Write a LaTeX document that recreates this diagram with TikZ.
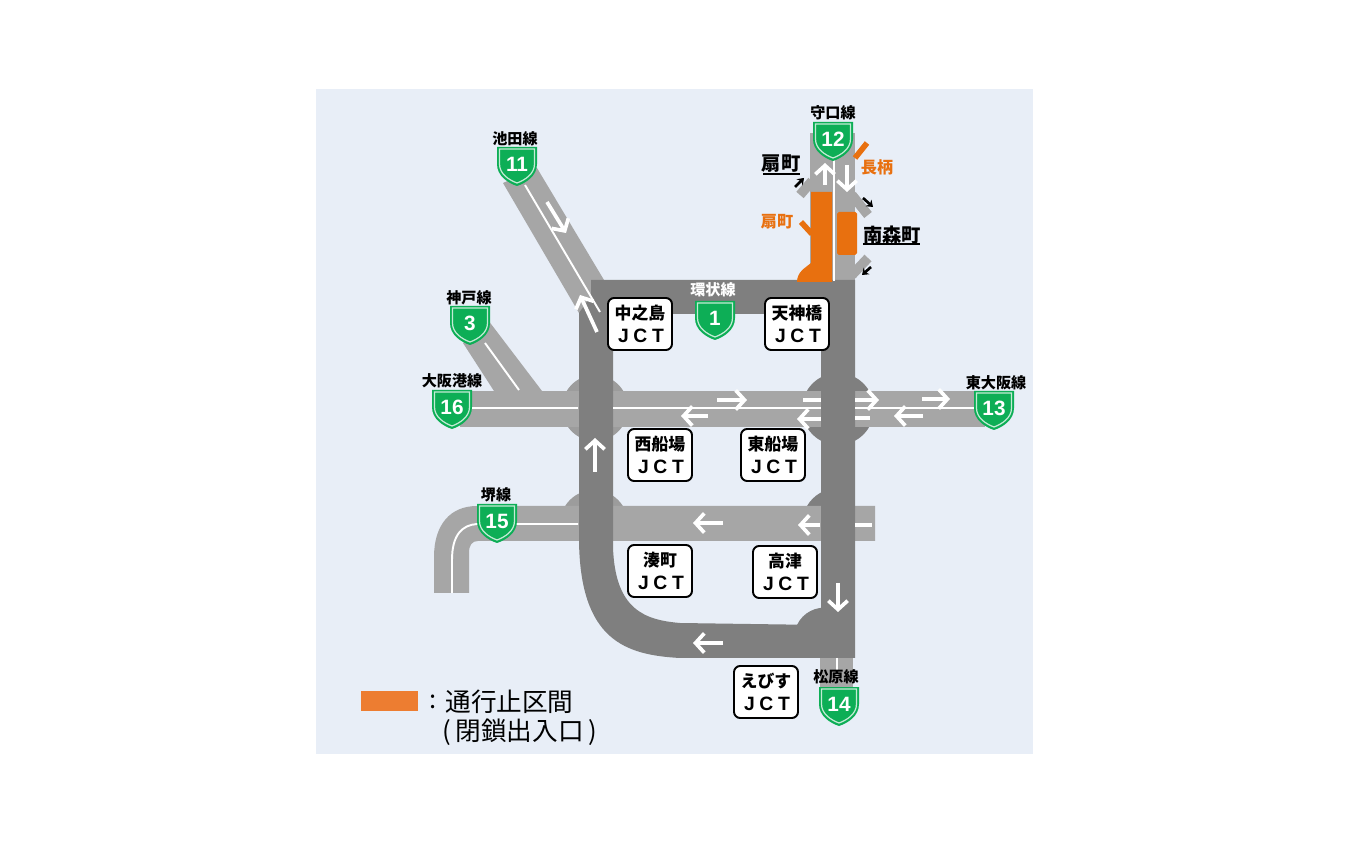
\documentclass[tikz,border=0pt]{standalone}
\usepackage{fontspec}
\usepackage{tikz}
\usetikzlibrary{arrows.meta}
\setmainfont{Noto Sans CJK JP}
\newfontfamily\latinfont{Liberation Sans}
\newfontfamily\jctfont[LetterSpace=24]{Liberation Sans}
\definecolor{colorPanel}{HTML}{E8EEF7}
\definecolor{colorLight}{HTML}{A6A6A6}
\definecolor{colorDark}{HTML}{7F7F7F}
\definecolor{colorClosed}{HTML}{E8700F}
\definecolor{colorLegend}{HTML}{ED7D31}
\definecolor{colorShield}{HTML}{0DAE56}
\tikzset{
    routename/.style={inner sep=0pt, font=\fontsize{8.6}{10}\selectfont\bfseries},
    placename/.style={inner sep=0pt, font=\fontsize{11}{13}\selectfont\bfseries},
    closedname/.style={placename, text=colorClosed, font=\fontsize{9.2}{11}\selectfont\bfseries},
    legendtext/.style={inner sep=0pt, anchor=west, font=\fontsize{14.6}{17}\selectfont},
    flow/.style={white, line width=2.1pt, -{Straight Barb[length=5pt,width=11pt,line width=2.1pt]}},
    dashmark/.style={white, line width=1.9pt},
    centreline/.style={white, line width=1.1pt},
    ramp/.style={colorLight, line width=5.5pt},
    closedramp/.style={colorClosed, line width=3.2pt},
    rampflow/.style={black, line width=1.5pt, -{Stealth[length=3.5pt,width=5pt]}},
    jctbox/.pic={
        \draw[black, fill=white, line width=1.1pt, rounded corners=3.5pt] (-32,-26) rectangle (32,26);
        \node[inner sep=0pt, font=\fontsize{9.6}{12}\selectfont\bfseries] (-name) at (0,-10.5) {#1};
        \node[inner sep=0pt, font=\jctfont\fontsize{11}{12}\selectfont\bfseries] (-jct) at (1,12) {JCT};
    },
    shield/.pic={
        \fill[colorShield] (-20,0) -- (20,0) -- (20,17) .. controls (20,29) and (9,36) .. (0,39) .. controls (-9,36) and (-20,29) .. (-20,17) -- cycle;
        \draw[white!75!colorShield, line width=0.7pt] (-17.5,2) -- (17.5,2) -- (17.5,17) .. controls (17.5,27) and (8,33) .. (0,36) .. controls (-8,33) and (-17.5,27) .. (-17.5,17) -- cycle;
        \node[white, inner sep=0pt, font=\latinfont\fontsize{11.8}{13}\selectfont\bfseries] (-num) at (0,17) {#1};
    },
}

\begin{document}
\begin{tikzpicture}[x=0.02cm, y=-0.02cm]
        \useasboundingbox (0,0) rectangle (1350,844);
        \fill[colorPanel] (316,89) rectangle (1033,754);
        % junction bulges
        \fill[colorLight!94!black] (595,408) circle (33);
        \fill[colorLight!94!black] (594,524) ++(-34,0) arc (180:360:34) -- cycle;
        \fill[colorDark] (838,409) circle (36);
        \fill[colorDark] (838,524) ++(-31,-18) arc (210:270:35) -- (838,506) -- cycle;
        \fill[colorDark] (825,637) ++(-28,-12) arc (205:280:30) -- (825,637) -- cycle;
        % light roads
        \fill[colorLight] (503,183) -- (537,168) -- (604,280) -- (600,320) -- (579,313) -- cycle;
        \fill[colorLight] (463,343) -- (488,320) -- (542,391) -- (494,391) -- cycle;
        \fill[colorLight] (460,391) rectangle (985,427);
        \fill[colorLight] (477,506) -- (875,506) -- (875,541) -- (478,541) .. controls (472,541) and (469,545) .. (469,553) -- (469,593) -- (434,593) -- (434,557) .. controls (434,525) and (450,506) .. (477,506) -- cycle;
        \fill[colorLight] (810,133) rectangle (855,280);
        \fill[colorLight] (820,655) rectangle (853,695);
        \draw[ramp] (812,181) -- (800,195);
        \draw[ramp] (852,195) -- (868,215);
        \draw[ramp] (852,275) -- (868,258);
        % ring road
        \fill[colorDark, even odd rule] (591,280) -- (855,280) -- (855,658) -- (680,658) .. controls (625,655) and (580,640) .. (579,540) -- (579,313) -- (591,296) -- cycle
            (613,314) -- (821,314) -- (821,625) -- (680,623) .. controls (645,620) and (615,610) .. (613,547) -- cycle;
        % closed section
        \fill[colorClosed] (811,192) -- (832,192) -- (832,282) -- (797,282) .. controls (797,272) and (805,268) .. (811,263) -- cycle;
        \fill[colorClosed] (837,212) [rounded corners=1pt] -- (857,212) -- (857,255) -- (837,255) -- cycle;
        \draw[closedramp] (801,222) -- (812,234);
        \draw[closedramp] (855,158) -- (867,143);
        % centre lines
        \draw[centreline] (525,185) -- (600,312);
        \draw[centreline] (485,343) -- (519,390);
        \draw[centreline] (472,408) -- (578,408);
        \draw[centreline] (613,408) -- (821,408);
        \draw[centreline] (855,408) -- (975,408);
        \draw[centreline] (452,593) -- (452,560) .. controls (452,535) and (462,525) .. (477,524) -- (578,524);
        \draw[centreline] (834,160) -- (834,281);
        \draw[centreline] (837,658) -- (837,680);
        % traffic arrows
        \draw[flow] (547,202) -- (566,233);
        \draw[flow] (597,332) -- (580,295);
        \draw[flow] (595,472) -- (595,438);
        \draw[flow] (717,400) -- (747,400);
        \draw[flow] (708,416) -- (681,416);
        \draw[flow] (821,419) -- (797,419);
        \draw[flow] (855,400) -- (879,400);
        \draw[flow] (922,399) -- (950,399);
        \draw[flow] (923,416) -- (894,416);
        \draw[flow] (723,523) -- (693,523);
        \draw[flow] (820,525) -- (798,525);
        \draw[flow] (838,583) -- (838,612);
        \draw[flow] (723,643) -- (693,643);
        \draw[flow] (825,185) -- (825,163);
        \draw[flow] (847,165) -- (847,192);
        \draw[dashmark] (803,400) -- (821,400);
        \draw[dashmark] (855,418) -- (870,418);
        \draw[dashmark] (855,525) -- (872,525);
        \draw[rampflow] (795,187) -- (804,178);
        \draw[rampflow] (863,198) -- (873,207);
        \draw[rampflow] (871,267) -- (862,275);
        % route shields
        \pic (ikeda) at (517,147) {shield=11};
        \pic (kobe) at (470,306) {shield=3};
        \pic (osakako) at (452,390) {shield=16};
        \pic (higashiosaka) at (994,391) {shield=13};
        \pic (sakai) at (497,504) {shield=15};
        \pic (kanjo) at (715,301) {shield=1};
        \pic (moriguchi) at (833,122) {shield=12};
        \pic (matsubara) at (839,687) {shield=14};
        \draw (515,139) node[routename] (ikedaname) {池田線};
        \draw (469,298) node[routename] (kobename) {神戸線};
        \draw (452,381) node[routename] (osakakoname) {大阪港線};
        \draw (996,383) node[routename] (higashiosakaname) {東大阪線};
        \draw (496,495) node[routename] (sakainame) {堺線};
        \draw (713,290) node[routename, text=white] (kanjoname) {環状線};
        \draw (833,113) node[routename] (moriguchiname) {守口線};
        \draw (836,677) node[routename] (matsubaraname) {松原線};
        % junction boxes
        \pic (nakanoshima) at (640,324) {jctbox=中之島};
        \pic (tenjinbashi) at (797,324) {jctbox=天神橋};
        \pic (nishisenba) at (660,455) {jctbox=西船場};
        \pic (higashisenba) at (773,455) {jctbox=東船場};
        \pic (minatomachi) at (660,571) {jctbox=湊町};
        \pic (kozu) at (785,572) {jctbox=高津};
        \pic (ebisu) at (766,692) {jctbox=えびす};
        % place names
        \draw (781,164) node[placename] (ogimachi) {扇町};
        \draw (892,235) node[placename] (minamimorimachi) {南森町};
        \draw[line width=0.7pt] (763,174) -- (800,174);
        \draw[line width=0.7pt] (863,244) -- (920,244);
        \draw (877,167) node[closedname] (nagara) {長柄};
        \draw (777,222) node[closedname] (ogimachiclosed) {扇町};
        % legend
        \fill[colorLegend] (361,691) rectangle (418,711);
        \draw (429,702) node[legendtext] (legendcolon) {:};
        \draw (445,702) node[legendtext] (legendfirst) {通行止区間};
        \draw (442,732) node[legendtext] (legendsecond) {(\hspace{2.5pt}閉鎖出入口\hspace{2.5pt})};
\end{tikzpicture}
\end{document}
